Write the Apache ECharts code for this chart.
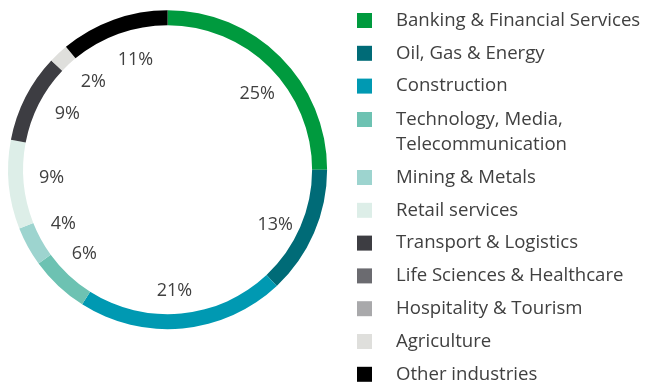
<!DOCTYPE html>
<html>
<head>
<meta charset="utf-8">
<title>Industry mix</title>
<script src="https://cdn.jsdelivr.net/npm/echarts@6/dist/echarts.min.js"></script>
<style>
  html, body { margin: 0; padding: 0; background: #ffffff; }
  #chart { width: 647px; height: 385px; }
</style>
</head>
<body>
<div id="chart"></div>
<script>
// Share of each industry, in percent (clockwise from 12 o'clock)
const industries = [
  'Banking & Financial Services',
  'Oil, Gas & Energy',
  'Construction',
  'Technology, Media, Telecommunication',
  'Mining & Metals',
  'Retail services',
  'Transport & Logistics',
  'Life Sciences & Healthcare',
  'Hospitality & Tourism',
  'Agriculture',
  'Other industries'
];
const shares = [25, 13, 21, 6, 4, 9, 9, 0, 0, 2, 11];
const palette = [
  '#009a3e', '#006b77', '#0099b2', '#6dc2b2', '#9dd4cf', '#ddeee8',
  '#3d3d42', '#6b6b70', '#a9a9ab', '#dfdfdc', '#000000'
];

const textColor = '#404040';
const fontFamily = '"Open Sans", "Noto Sans", sans-serif';

const ringData = industries.map((name, i) => ({
  name: name,
  value: shares[i],
  itemStyle: { color: palette[i] }
}));

// Percent labels sit inside the hole, on an invisible ring
const labelData = shares.map(v => ({ value: v }));

const legendText = {
  color: textColor,
  fontFamily: fontFamily,
  fontSize: 18.6,
  lineHeight: 25,
  padding: [0, 0, 0, 19]
};
const legendCommon = {
  type: 'plain',
  orient: 'vertical',
  left: 357,
  height: 320,
  padding: 0,
  icon: 'rect',
  itemWidth: 15,
  itemHeight: 15,
  itemGap: 7.8,
  selectedMode: false,
  textStyle: legendText
};

const chart = echarts.init(document.getElementById('chart'), null, { renderer: 'canvas' });
chart.setOption({
  animation: false,
  legend: [
    Object.assign({}, legendCommon, { top: 8, data: industries.slice(0, 3) }),
    Object.assign({}, legendCommon, {
      top: 82,
      data: industries.slice(3, 4),
      formatter: () => '\nTechnology, Media,\nTelecommunication'
    }),
    Object.assign({}, legendCommon, { top: 165, data: industries.slice(4) })
  ],
  series: [
    {
      type: 'pie',
      center: [167.6, 169.7],
      radius: [144.5, 159.5],
      startAngle: 90,
      clockwise: true,
      silent: true,
      label: { show: false },
      labelLine: { show: false },
      itemStyle: { borderWidth: 0 },
      emphasis: { disabled: true },
      data: ringData
    },
    {
      type: 'pie',
      center: [169.5, 172.5],
      radius: [84, 146],
      startAngle: 87,
      clockwise: true,
      silent: true,
      itemStyle: { color: 'rgba(0,0,0,0)', borderWidth: 0 },
      emphasis: { disabled: true },
      labelLine: { show: false },
      label: {
        show: true,
        position: 'inside',
        color: textColor,
        fontFamily: fontFamily,
        fontSize: 18,
        formatter: p => (p.value ? p.value + '%' : '')
      },
      data: labelData
    }
  ]
});
</script>
</body>
</html>
